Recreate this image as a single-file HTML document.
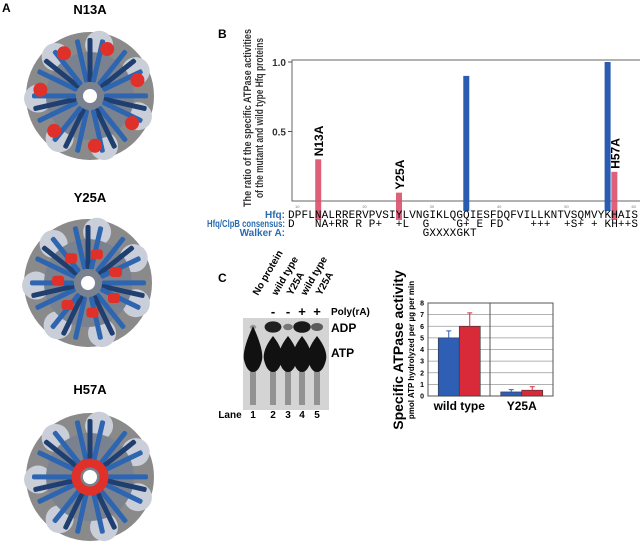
<!DOCTYPE html>
<html><head><meta charset="utf-8"><style>
html,body{margin:0;padding:0;background:#fff;}
body{width:640px;height:547px;position:relative;overflow:hidden;font-family:"Liberation Sans",sans-serif;}
svg{position:absolute;left:0;top:0;}
</style></head><body>
<svg id="fig" width="640" height="547" viewBox="0 0 640 547">
<text x="2" y="12" font-size="12" font-weight="bold">A</text>
<text x="218" y="38" font-size="12" font-weight="bold">B</text>
<text x="218" y="282" font-size="12" font-weight="bold">C</text>
<text x="90" y="14" font-size="13" font-weight="bold" text-anchor="middle">N13A</text>
<text x="90" y="202" font-size="13" font-weight="bold" text-anchor="middle">Y25A</text>
<text x="90" y="394" font-size="13" font-weight="bold" text-anchor="middle">H57A</text>
<g id="rings"></g>

<!-- Panel B -->
<g>
<text transform="translate(251,118) rotate(-90)" font-size="11" font-weight="bold" fill="#333" text-anchor="middle" textLength="178" lengthAdjust="spacingAndGlyphs">The ratio of the specific ATPase activities</text>
<text transform="translate(263,118) rotate(-90)" font-size="11" font-weight="bold" fill="#333" text-anchor="middle" textLength="160" lengthAdjust="spacingAndGlyphs">of the mutant and wild type Hfq proteins</text>
<rect x="292" y="60" width="350" height="141" fill="none" stroke="#666" stroke-width="1"/>
<g id="bAxis"></g><g id="bBars"></g>
<g font-family="Liberation Mono, monospace" font-size="11">
<text x="285" y="218" font-family="Liberation Sans" font-weight="bold" fill="#2b6cb0" text-anchor="end" font-size="10">Hfq:</text>
<text x="207" y="227" font-family="Liberation Sans" font-weight="bold" fill="#2b6cb0" font-size="10" textLength="78" lengthAdjust="spacingAndGlyphs">Hfq/ClpB consensus:</text>
<text x="285" y="236" font-family="Liberation Sans" font-weight="bold" fill="#2b6cb0" text-anchor="end" font-size="10">Walker A:</text>
<text x="288" y="218" textLength="350" lengthAdjust="spacing" xml:space="preserve">DPFLNALRRERVPVSIYLVNGIKLQGQIESFDQFVILLKNTVSQMVYKHAIS</text>
<text x="288" y="227" textLength="350" lengthAdjust="spacing" xml:space="preserve">D___NA+RR_R_P+__+L__G____G+_E_FD____+++__+S+_+_KH++S</text>
<text x="288" y="236" textLength="54" lengthAdjust="spacing" xml:space="preserve" id="walk">GXXXXGKT</text>
</g>
</g>

<!-- Panel C gel -->
<g>
<g font-size="10" font-weight="bold">
<text transform="translate(258,296) rotate(-60)">No protein</text>
<text transform="translate(277,296) rotate(-60)">wild type</text>
<text transform="translate(292,296) rotate(-60)">Y25A</text>
<text transform="translate(306,296) rotate(-60)">wild type</text>
<text transform="translate(321,296) rotate(-60)">Y25A</text>
</g>
<g font-size="13" font-weight="bold" text-anchor="middle">
<text x="273" y="316">-</text>
<text x="288" y="316">-</text>
<text x="302" y="316">+</text>
<text x="317" y="316">+</text>
</g>
<text x="331" y="315" font-size="10" font-weight="bold">Poly(rA)</text>
<text x="331" y="332" font-size="12" font-weight="bold">ADP</text>
<text x="331" y="357" font-size="12" font-weight="bold">ATP</text>
<rect x="243" y="318" width="86" height="92" fill="#d4d4d4"/>
<g id="gelspots"></g>
<g font-size="10" font-weight="bold" text-anchor="middle">
<text x="230" y="418">Lane</text>
<text x="253" y="418">1</text>
<text x="273" y="418">2</text>
<text x="288" y="418">3</text>
<text x="302" y="418">4</text>
<text x="317" y="418">5</text>
</g>
</g>

<!-- Panel C bar chart -->
<g>
<text transform="translate(403,350) rotate(-90)" font-size="14" font-weight="bold" text-anchor="middle">Specific ATPase activity</text>
<text transform="translate(414,350) rotate(-90)" font-size="8" font-weight="bold" text-anchor="middle">pmol ATP hydrolyzed per µg per min</text>
<g id="cChart"></g>
</g>
</svg>
<script>
// Panel B data
const bPositions = [13, 25, 35, 56, 57];
const bLabels = ["N13A", "Y25A", "", "", "H57A"];
const bValues = [0.30, 0.06, 0.90, 1.00, 0.21];
const bColors = ["#d9506a", "#d9506a", "#2a5db0", "#2a5db0", "#d9506a"];
const bTicks = [0.5, 1.0];
const bResTicks = [10, 20, 30, 40, 50, 60];
// Panel C data
const cCategories = ["wild type", "Y25A"];
const cBlue = [5.0, 0.35];
const cRed = [6.0, 0.5];
const cBlueErr = [0.6, 0.2];
const cRedErr = [1.15, 0.3];
const cTicks = [0,1,2,3,4,5,6,7,8];
const gelADP = [0.05, 0.9, 0.3, 0.95, 0.5];

const NS="http://www.w3.org/2000/svg";
function mk(t,a,p){const e=document.createElementNS(NS,t);for(const k in a)e.setAttribute(k,a[k]);p.appendChild(e);return e;}

document.querySelectorAll('text').forEach(t=>{ if(t.textContent.indexOf('_')>=0) t.textContent=t.textContent.replace(/_/g,'\u00a0'); });
document.getElementById('walk').setAttribute('x', 288 + 20*6.73);

// B axes
const bx = r => 288 + (r - 9) * 6.73 + 3.3;
const by = v => 201 - v * 139;
const bAxis=document.getElementById('bAxis');
bTicks.forEach(t=>{
  const l=mk('line',{x1:288,x2:292,y1:by(t),y2:by(t),stroke:'#555'},bAxis);
  
  
  const tx=mk('text',{x:286,y:by(t)+4,'font-size':10,'font-weight':'bold','text-anchor':'end',fill:'#333'},bAxis);
  tx.textContent=t.toFixed(1);
  
  
});
bResTicks.forEach(r=>{
  const tx=mk('text',{x:bx(r)-3,y:208,'font-size':4,'fill':'#777'},bAxis);
  tx.textContent=r;
  
  
});
const bBars=document.getElementById('bBars');
bPositions.forEach((p,i)=>{
  const x=bx(p)-3, blue=bColors[i]==="#2a5db0";
  const bottom = blue?211:220;
  const r=mk('rect',{x:x,y:by(bValues[i]),width:6,height:bottom-by(bValues[i]),fill:bColors[i],opacity:blue?1:0.9},bBars);
  
  
  if(bLabels[i]){
    const tx=mk('text',{transform:`translate(${x+8},${by(bValues[i])-3}) rotate(-90)`,'font-size':12,'font-weight':'bold'},bBars);
    tx.textContent=bLabels[i];
    
    
  }
});

// C chart
const cc=document.getElementById('cChart');
const cL=428,cR=553,cT=303,cB=396;
const cy=v=>cB-(v/8)*(cB-cT);
cTicks.forEach(t=>{
  const g=mk('line',{x1:cL,x2:cR,y1:cy(t),y2:cy(t),stroke:'#999','stroke-width':0.8},cc);
  
  
  const tx=mk('text',{x:cL-4,y:cy(t)+2.5,'font-size':7,'text-anchor':'end','font-weight':'bold'},cc);
  tx.textContent=t;
  
  
});
const fr=mk('rect',{x:cL,y:cT,width:cR-cL,height:cB-cT,fill:'none',stroke:'#555'},cc);


const dv=mk('line',{x1:490,x2:490,y1:cT,y2:cB,stroke:'#555'},cc);


const cw=(cR-cL)/cCategories.length;
cCategories.forEach((c,i)=>{
  const cx=cL+cw*i+cw/2;
  [[cBlue,cBlueErr,'#2f5fb5',-21],[cRed,cRedErr,'#d92a3a',0]].forEach(([vals,errs,col,off],j)=>{
    const x=cx+off, v=vals[i];
    const r=mk('rect',{x:x,y:cy(v),width:21,height:cB-cy(v),fill:col,stroke:'#333','stroke-width':0.6},cc);
    
    
    const e=mk('path',{d:`M${x+10.5},${cy(v)}V${cy(v+errs[i])}M${x+8},${cy(v+errs[i])}H${x+13}`,stroke:col,'stroke-width':1,fill:'none'},cc);
    
    
  });
  const tx=mk('text',{x:cx,y:410,'font-size':12,'font-weight':'bold','text-anchor':'middle'},cc);
  tx.textContent=c;
  
  
});

// gel spots
const gs=document.getElementById('gelspots');
[253,273,288,302,317].forEach((x,i)=>{
  const t=mk('rect',{x:x-3,y:365,width:6,height:40,fill:'#666',opacity:0.6},gs);
  
  
  const a=mk('path',{d:`M${x},${i===0?326:336}Q${x+11},${350} ${x+9},${360}Q${x+6},${372} ${x},${372}Q${x-6},${372} ${x-9},${360}Q${x-11},${350} ${x},${i===0?326:336}Z`,fill:'#111'},gs);
  
  
  const d=mk('ellipse',{cx:x,cy:327,rx:3+6*gelADP[i],ry:2+4*gelADP[i],fill:'#111',opacity:0.25+0.75*gelADP[i]},gs);
  
  
});

// rings
const rg=document.getElementById('rings');
function ring(cx,cy,type){
  const g=mk('g',{},rg);
  
  
  mk('circle',{cx,cy,r:64,fill:'#8a8a8a'},g);
  for(let k=0;k<7;k++){
    const a=k*2*Math.PI/7+0.4;
    mk('circle',{cx:cx+52*Math.cos(a),cy:cy+52*Math.sin(a),r:14,fill:'#c9ced8'},g);
  }
  mk('circle',{cx,cy,r:44,fill:'#7a8290'},g);
  for(let k=0;k<7;k++){
    const deg=k*360/7;
    for(let s=-1;s<=1;s++){
      mk('rect',{x:cx-2.5,y:cy-58,width:5,height:44,rx:2,fill:s?'#2e65b0':'#1f3f70',transform:`rotate(${deg+s*13},${cx},${cy})`},g);
    }
    const a=(deg-90)*Math.PI/180;
    if(type==='n13a') mk('circle',{cx:cx+50*Math.cos(a+0.35),cy:cy+50*Math.sin(a+0.35),r:7,fill:'#e0302a'},g);
    if(type==='y25a') mk('rect',{x:cx+30*Math.cos(a+0.3)-6,y:cy+30*Math.sin(a+0.3)-5,width:12,height:10,rx:3,fill:'#e0302a'},g);
  }
  if(type==='h57a') mk('circle',{cx,cy,r:14,fill:'none',stroke:'#e0302a','stroke-width':9},g);
  mk('circle',{cx,cy,r:7,fill:'#fff'},g);
}
ring(90,96,'n13a');ring(88,283,'y25a');ring(90,477,'h57a');
</script>
</body></html>
